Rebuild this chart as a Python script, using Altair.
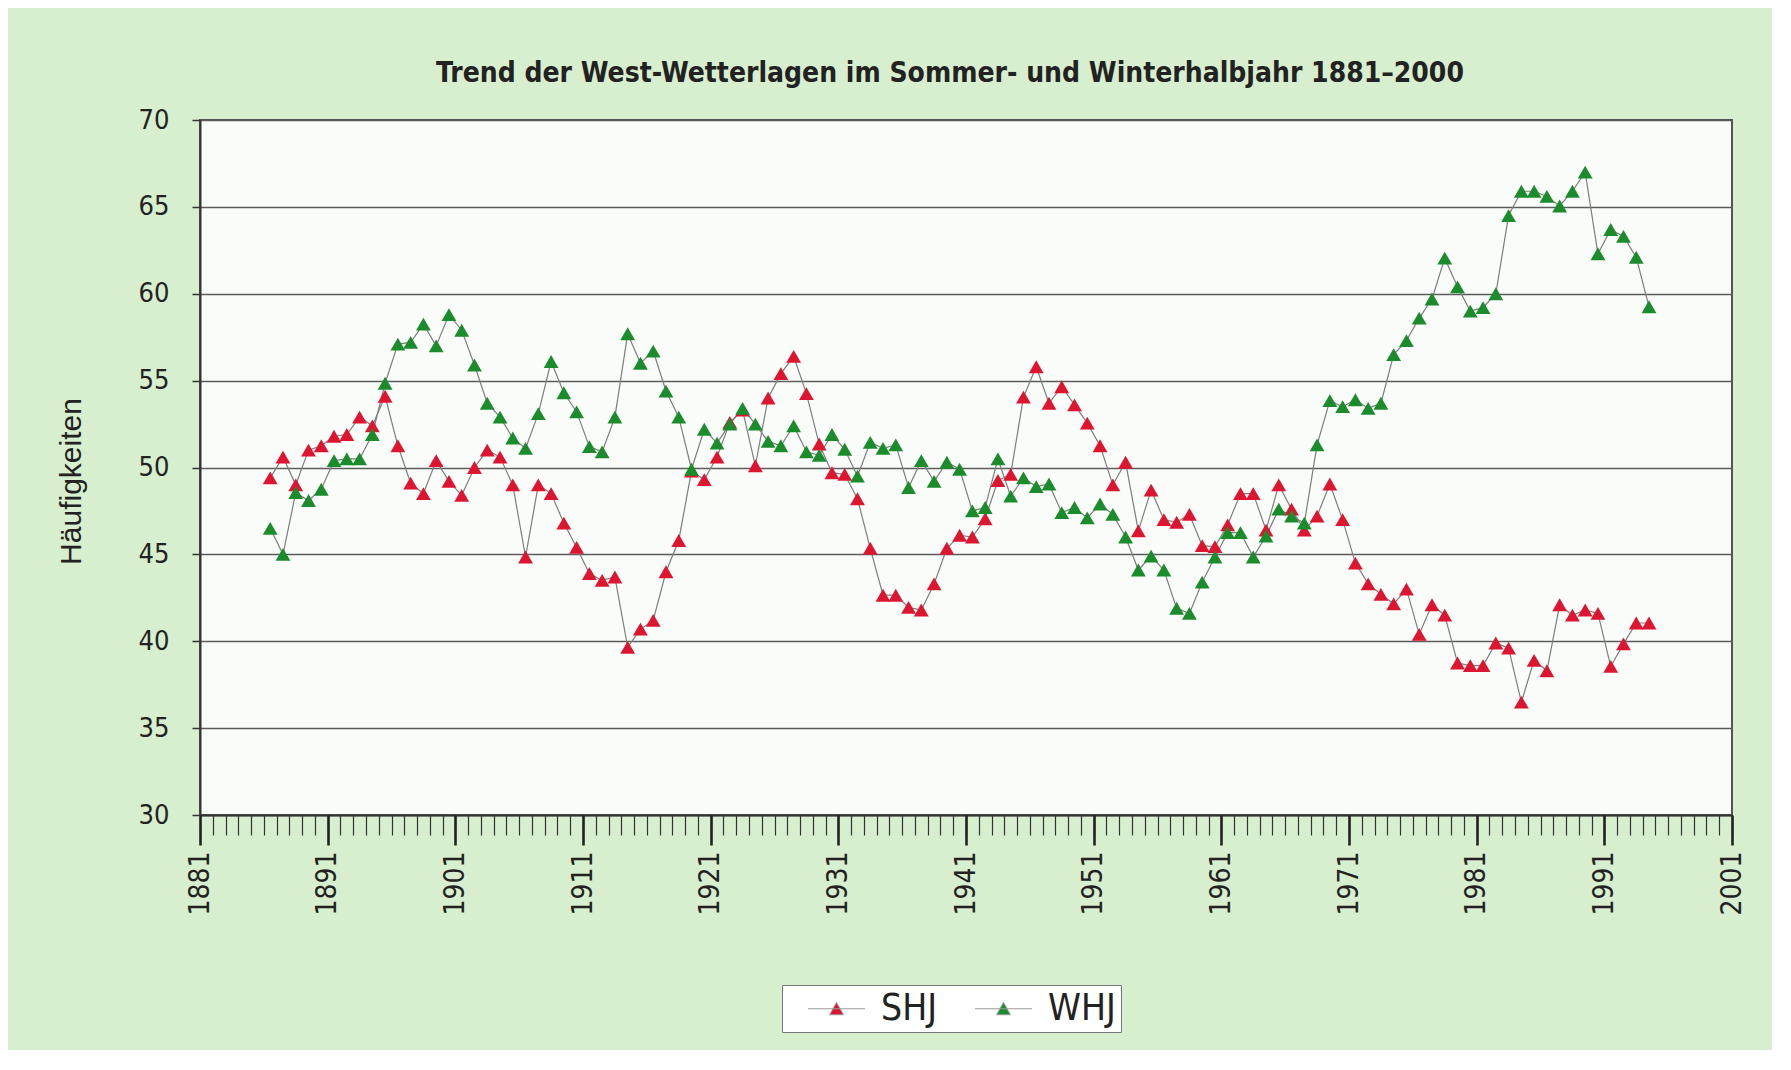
import altair as alt
import pandas as pd

# ---- data (11-year running means, categories 1886..1994) ----
first_year = 1886
shj = [49.4, 50.6, 49.0, 51.0, 51.25, 51.8, 51.9, 52.9, 52.4, 54.1,
       51.25, 49.1, 48.5, 50.4, 49.2, 48.4, 50.0, 51.0, 50.6, 49.0,
       44.85, 49.0, 48.5, 46.8, 45.4, 43.9, 43.5, 43.7, 39.65, 40.7,
       41.2, 44.0, 45.8, 49.8, 49.3, 50.6, 52.6, 53.3, 50.1, 54.0,
       55.4, 56.4, 54.25, 51.35, 49.7, 49.6, 48.2, 45.35, 42.65, 42.65,
       41.95, 41.8, 43.3, 45.35, 46.1, 46.0, 47.05, 49.25, 49.6, 54.05,
       55.8, 53.7, 54.65, 53.6, 52.55, 51.25, 49.0, 50.3, 46.35, 48.7,
       47.0, 46.85, 47.3, 45.5, 45.45, 46.7, 48.5, 48.5, 46.4, 49.0,
       47.6, 46.4, 47.2, 49.05, 47.0, 44.5, 43.3, 42.7, 42.15, 43.0,
       40.4, 42.1, 41.5, 38.75, 38.6, 38.6, 39.9, 39.6, 36.5, 38.9,
       38.3, 42.1, 41.5, 41.8, 41.6, 38.55, 39.85, 41.05, 41.05]
whj = [46.5, 45.0, 48.55, 48.1, 48.75, 50.4, 50.5, 50.5, 51.9, 54.85,
       57.1, 57.2, 58.25, 57.0, 58.8, 57.9, 55.9, 53.7, 52.9, 51.7,
       51.1, 53.1, 56.1, 54.3, 53.2, 51.2, 50.9, 52.9, 57.7, 56.0,
       56.7, 54.4, 52.9, 49.9, 52.2, 51.4, 52.5, 53.4, 52.5, 51.5,
       51.25, 52.4, 50.9, 50.7, 51.9, 51.05, 49.5, 51.45, 51.1, 51.3,
       48.85, 50.4, 49.2, 50.3, 49.9, 47.5, 47.7, 50.5, 48.35, 49.4,
       48.9, 49.05, 47.4, 47.7, 47.1, 47.9, 47.3, 46.0, 44.1, 44.9,
       44.1, 41.9, 41.6, 43.4, 44.85, 46.25, 46.25, 44.85, 46.05, 47.6,
       47.2, 46.8, 51.3, 53.85, 53.5, 53.9, 53.4, 53.7, 56.5, 57.3,
       58.6, 59.7, 62.05, 60.4, 59.0, 59.2, 60.0, 64.5, 65.9, 65.9,
       65.6, 65.05, 65.9, 67.0, 62.3, 63.7, 63.3, 62.1, 59.25]
series_names = ["SHJ", "WHJ"]
series_colors = ["#de1530", "#1b8c2c"]
x_major = list(range(1881, 2002, 10))
x_minor = list(range(1881, 2002))
y_ticks = list(range(30, 71, 5))

rows = []
for name, vals in zip(series_names, [shj, whj]):
    for i, v in enumerate(vals):
        rows.append({"Jahr": first_year + i, "Wert": v, "Reihe": name})
df = pd.DataFrame(rows)

NARROW = "Liberation Sans Narrow, DejaVu Sans Condensed, Arial Narrow, sans-serif"
REG = "Liberation Sans, Arial, sans-serif"

xscale = alt.Scale(domain=[1881, 2001], nice=False, zero=False)
yscale = alt.Scale(domain=[30, 70], nice=False, zero=False)

y_axis = alt.Axis(values=y_ticks, grid=True, gridColor="#5c5c5c", gridWidth=1.6,
                  tickSize=8, tickColor="#333", tickWidth=1.5,
                  domainColor="#333", domainWidth=2,
                  labelFont=NARROW, labelFontSize=27, labelColor="#222", labelPadding=23,
                  title="Häufigkeiten", titleFont=REG, titleFontSize=30,
                  titleFontWeight="normal", titleColor="#222",
                  titleAngle=270, titleX=-129, titleY=361, titleBaseline="middle")

minor_axis = alt.Axis(values=x_minor, labels=False, tickSize=20, tickWidth=1.2,
                      tickColor="#333", domain=True, domainColor="#333", domainWidth=2,
                      grid=False, title=None, orient="bottom")
major_axis = alt.Axis(values=x_major, tickSize=30, tickWidth=2.6, tickColor="#222",
                      domain=False, grid=False, title=None, orient="bottom",
                      labelAngle=270, labelFont=NARROW, labelFontSize=28, labelColor="#222",
                      labelPadding=6, labelFlush=False, labelOverlap=False, format="d")

base = alt.Chart(df).transform_calculate(pos="datum.Jahr + 0.5")

lines = base.mark_line(color="#7d7d7d", strokeWidth=1.2).encode(
    x=alt.X("pos:Q", scale=xscale, axis=minor_axis),
    y=alt.Y("Wert:Q", scale=yscale, axis=y_axis),
    detail="Reihe:N",
)

legend_symbol = "M-1.9,0H1.9M0,-0.42L0.46,0.4L-0.46,0.4Z"
points = base.mark_point(shape="triangle-up", filled=True, size=220, opacity=1).encode(
    x=alt.X("pos:Q", scale=xscale, axis=major_axis),
    y=alt.Y("Wert:Q", scale=yscale, axis=y_axis),
    color=alt.Color("Reihe:N",
                    scale=alt.Scale(domain=series_names, range=series_colors),
                    legend=alt.Legend(orient="none", legendX=582, legendY=865,
                                      direction="horizontal", title=None,
                                      fillColor="white", strokeColor="#777",
                                      padding=5, symbolType=legend_symbol,
                                      symbolSize=900, symbolOffset=31,
                                      symbolStrokeColor="#9a9a9a",
                                      symbolStrokeWidth=1, labelFont=NARROW,
                                      labelFontSize=37, labelColor="#222",
                                      labelOffset=26, columnPadding=17)),
)

chart = alt.layer(lines, points).resolve_axis(x="independent").properties(
    width=1532, height=695,
    autosize=alt.AutoSizeParams(type="none"),
    padding={"left": 192, "top": 112, "right": 40, "bottom": 235},
    background="#d8efcf",
    title=alt.Title("Trend der West-Wetterlagen im Sommer- und Winterhalbjahr 1881–2000",
                    font=NARROW, fontSize=28, fontWeight="bold", color="#222",
                    anchor="middle", dx=-16, offset=18),
).configure_view(fill="#fafcf9", stroke="#555", strokeWidth=2)

chart.save("out.html", embed_options={"renderer": "svg", "actions": False})
